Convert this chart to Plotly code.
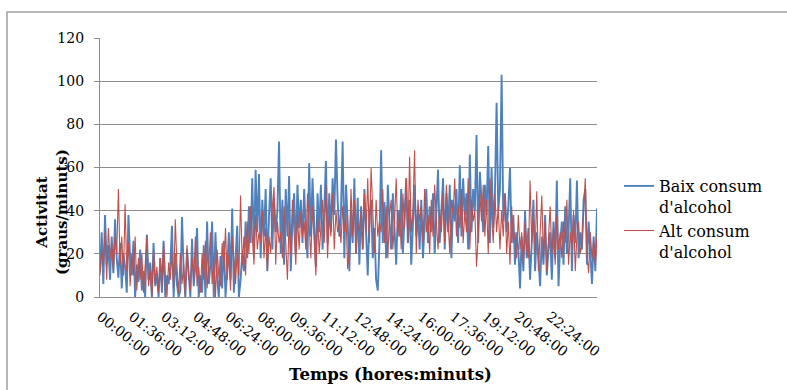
import plotly.graph_objects as go

# Activity samples every 5 minutes, one row per hour
baix = (
    [12, 30, 6, 38, 15, 24, 8, 28, 11, 36, 18, 9]
    + [25, 4, 20, 14, 2, 38, 18, 10, 26, 0, 15, 7]
    + [22, 3, 12, 0, 29, 8, 16, 0, 25, 5, 11, 0]
    + [18, 2, 26, 0, 10, 6, 14, 33, 0, 20, 6, 0]
    + [3, 37, 12, 0, 22, 8, 0, 27, 5, 15, 32, 0]
    + [10, 2, 24, 0, 35, 6, 15, 35, 0, 30, 9, 0]
    + [19, 4, 26, 0, 12, 30, 8, 41, 2, 18, 33, 0]
    + [8, 20, 12, 35, 18, 42, 25, 55, 20, 59, 30, 57]
    + [18, 45, 28, 50, 12, 38, 55, 22, 46, 30, 40, 72]
    + [20, 45, 15, 50, 28, 56, 12, 35, 48, 20, 52, 32]
    + [45, 25, 50, 30, 18, 62, 28, 55, 35, 14, 48, 30]
    + [52, 22, 40, 63, 25, 48, 30, 55, 38, 73, 45, 28]
    + [40, 72, 18, 52, 35, 12, 40, 25, 55, 20, 46, 15]
    + [42, 22, 50, 30, 10, 38, 45, 18, 32, 8, 3, 25]
    + [68, 25, 44, 18, 52, 35, 22, 48, 30, 15, 40, 28]
    + [50, 20, 38, 55, 25, 45, 15, 35, 52, 28, 40, 22]
    + [45, 18, 36, 50, 25, 42, 30, 48, 20, 38, 59, 25]
    + [40, 55, 22, 48, 30, 52, 18, 45, 35, 50, 25, 61]
    + [28, 55, 38, 48, 22, 66, 30, 50, 40, 75, 25, 58]
    + [45, 30, 52, 38, 70, 25, 60, 32, 48, 90, 40, 50]
    + [103, 35, 48, 30, 42, 60, 25, 38, 15, 30, 22, 4]
    + [28, 12, 40, 18, 32, 8, 25, 45, 12, 30, 18, 5]
    + [28, 15, 38, 10, 22, 30, 8, 35, 18, 54, 5, 25]
    + [35, 15, 42, 20, 30, 55, 12, 38, 25, 54, 18, 30]
    + [22, 45, 50, 15, 35, 20, 6, 28, 12, 41]
)

alt = (
    [10, 22, 15, 30, 8, 32, 18, 25, 12, 28, 20, 50]
    + [15, 28, 10, 43, 12, 25, 5, 20, 10, 28, 3, 18]
    + [8, 20, 2, 15, 28, 5, 12, 0, 22, 6, 14, 2]
    + [18, 5, 25, 10, 0, 16, 8, 20, 4, 36, 14, 2]
    + [20, 6, 15, 0, 24, 10, 3, 18, 8, 28, 5, 14]
    + [2, 20, 8, 26, 4, 15, 30, 6, 18, 0, 22, 10]
    + [5, 25, 12, 32, 8, 20, 3, 28, 14, 6, 22, 10]
    + [47, 15, 28, 10, 35, 20, 42, 25, 15, 38, 22, 30]
    + [25, 40, 18, 32, 12, 28, 20, 42, 51, 15, 35, 25]
    + [30, 18, 42, 25, 8, 35, 20, 45, 28, 15, 38, 22]
    + [40, 28, 35, 22, 48, 30, 18, 42, 25, 10, 38, 20]
    + [32, 45, 25, 52, 18, 38, 28, 48, 22, 40, 30, 35]
    + [25, 42, 30, 38, 13, 22, 50, 28, 45, 20, 35, 30]
    + [40, 22, 48, 30, 55, 25, 60, 38, 20, 45, 28, 35]
    + [30, 50, 25, 42, 18, 38, 45, 22, 35, 55, 28, 40]
    + [22, 48, 32, 55, 25, 65, 30, 40, 68, 20, 45, 35]
    + [42, 25, 50, 30, 38, 20, 45, 28, 52, 35, 22, 40]
    + [30, 48, 25, 52, 35, 20, 45, 38, 55, 28, 42, 32]
    + [50, 25, 40, 30, 55, 22, 45, 35, 40, 14, 28, 48]
    + [35, 52, 28, 45, 20, 55, 38, 25, 48, 30, 42, 22]
    + [40, 28, 48, 20, 35, 15, 42, 25, 30, 18, 38, 22]
    + [30, 15, 35, 22, 18, 54, 25, 40, 20, 49, 12, 28]
    + [47, 18, 35, 12, 28, 42, 20, 32, 15, 38, 22, 30]
    + [18, 35, 25, 45, 15, 30, 22, 40, 12, 28, 35, 20]
    + [25, 38, 55, 20, 11, 30, 18, 26, 15, 28]
)

step_min = 5
minutes = [i * step_min for i in range(len(baix))]

tick_minutes = [0, 96, 192, 288, 384, 480, 576, 672, 768, 864, 960, 1056, 1152, 1248, 1344]
tick_labels = ["00:00:00", "01:36:00", "03:12:00", "04:48:00", "06:24:00",
               "08:00:00", "09:36:00", "11:12:00", "12:48:00", "14:24:00",
               "16:00:00", "17:36:00", "19:12:00", "20:48:00", "22:24:00"]

FONT = "DejaVu Serif"
GRID = "#8c8c8c"

fig = go.Figure()
fig.add_trace(go.Scatter(x=minutes, y=baix, mode="lines",
                         name="Baix consum<br>d'alcohol",
                         line=dict(color="#4F81BD", width=1.9)))
fig.add_trace(go.Scatter(x=minutes, y=alt, mode="lines",
                         name="Alt consum<br>d'alcohol",
                         line=dict(color="#C0504D", width=1.1)))

L, R, T, B = 100, 190, 38, 93
W, H = 787, 390
pw, ph = W - L - R, H - T - B

def px_x(p):
    return (p - L) / pw

def px_y(p):
    return (H - B - p) / ph

fig.update_layout(
    width=W, height=H,
    margin=dict(l=L, r=R, t=T, b=B),
    paper_bgcolor="white", plot_bgcolor="white",
    font=dict(family=FONT, color="#000000"),
    showlegend=True,
    legend=dict(x=px_x(619), y=px_y(169), xanchor="left", yanchor="top",
                font=dict(family=FONT, size=16), valign="top",
                bgcolor="rgba(0,0,0,0)", tracegroupgap=0),
    xaxis=dict(range=[0, minutes[-1]], tickmode="array",
               tickvals=tick_minutes, ticktext=tick_labels,
               tickangle=38, tickfont=dict(family=FONT, size=14),
               ticklabelstandoff=5,
               showgrid=False, zeroline=False, showline=True,
               linecolor=GRID, linewidth=1.25, ticks=""),
    yaxis=dict(range=[0, 120], dtick=20, tickfont=dict(family=FONT, size=14),
               ticklabelstandoff=7,
               showgrid=True, gridcolor=GRID, gridwidth=1.25,
               zeroline=False, showline=True, linecolor=GRID, linewidth=1.25,
               ticks="outside", ticklen=5, tickcolor=GRID, tickwidth=1.25),
    annotations=[
        dict(text="<b>Activitat<br>(graus/minuts)</b>", textangle=-90,
             x=px_x(52), y=px_y(212), xref="paper", yref="paper",
             xanchor="center", yanchor="middle",
             showarrow=False, font=dict(family=FONT, size=15)),
        dict(text="<b>Temps (hores:minuts)</b>",
             x=px_x(390), y=px_y(374), xref="paper", yref="paper",
             xanchor="center", yanchor="middle",
             showarrow=False, font=dict(family=FONT, size=16.5)),
    ],
    shapes=[
        dict(type="path", xref="paper", yref="paper",
             path=f"M {px_x(7)} {px_y(400)} L {px_x(7)} {px_y(12)} L {px_x(800)} {px_y(12)}",
             line=dict(color="#a0a0a0", width=1.5)),
    ],
)

fig.write_html("out.html")
